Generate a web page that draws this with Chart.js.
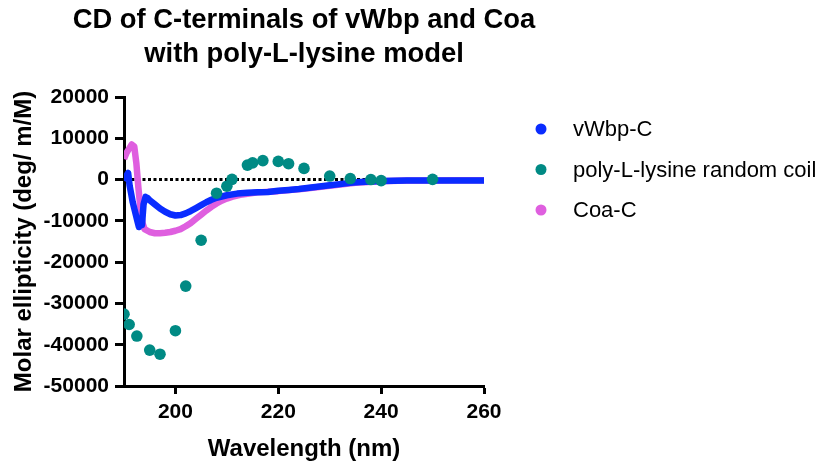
<!DOCTYPE html>
<html>
<head>
<meta charset="utf-8">
<script src="https://cdn.jsdelivr.net/npm/chart.js@4.4.1/dist/chart.umd.min.js"></script>
<style>
  html, body { margin: 0; padding: 0; background: #ffffff; }
  #wrap { width: 836px; height: 465px; position: relative; }
</style>
</head>
<body>
<div id="wrap"><canvas id="c" width="836" height="465"></canvas></div>
<script>
// ---- Data ----
const chartTitle = ['CD of C-terminals of vWbp and Coa', 'with poly-L-lysine model'];
const xAxisTitle = 'Wavelength (nm)';
const yAxisTitle = 'Molar ellipticity (deg/ m/M)';
const seriesNames = ['vWbp-C', 'poly-L-lysine random coil', 'Coa-C'];

const xTicks = [200, 220, 240, 260];
const yTicks = [20000, 10000, 0, -10000, -20000, -30000, -40000, -50000];

const vwbpWavelength = [190, 190.4, 190.8, 191.1, 191.4, 191.7, 192, 192.3, 192.6, 192.9, 193.2, 193.5, 193.8, 194.2, 194.6, 195, 196, 197, 198, 199, 200, 201, 202, 203, 204, 205, 206, 207, 208, 209, 210, 212, 214, 216, 218, 220, 222, 224, 226, 228, 230, 232, 234, 236, 238, 240, 245, 250, 255, 260];
const vwbpEllipticity = [-300, 800, 1600, -1500, -3500, -5500, -7000, -8500, -10000, -11500, -9500, -11000, -6000, -4200, -4500, -5000, -6000, -7000, -7800, -8400, -8700, -8600, -8200, -7600, -6900, -6200, -5500, -4900, -4400, -4100, -3800, -3400, -3200, -3100, -3000, -2700, -2500, -2300, -2000, -1700, -1400, -1100, -800, -600, -450, -350, -250, -200, -200, -200];

const plysWavelength = [190, 191, 192.5, 195, 197, 200, 202, 205, 208, 210, 211, 214, 215, 217, 220, 222, 225, 230, 234, 238, 240, 250];
const plysEllipticity = [-32600, -35100, -37900, -41300, -42300, -36600, -25800, -14700, -3300, -1600, 50, 3500, 4050, 4600, 4400, 3850, 2700, 850, 250, 0, -250, 50];

const coaWavelength = [190, 190.5, 191, 191.5, 192, 192.4, 192.8, 193.2, 193.6, 194, 195, 196, 197, 198, 199, 200, 201, 202, 203, 204, 205, 206, 207, 208, 209, 210, 211, 213, 216, 220, 225, 230, 235, 240, 245, 250, 255, 260];
const coaEllipticity = [5000, 6500, 7500, 8500, 8000, 4000, -2000, -7000, -10500, -12000, -12700, -13000, -13000, -12900, -12700, -12400, -12000, -11300, -10500, -9500, -8500, -7500, -6600, -5800, -5100, -4600, -4200, -3600, -3100, -2800, -2200, -1500, -800, -400, -250, -200, -150, -150];

const FONT = 'Liberation Sans, Arial, Helvetica, sans-serif';
const BLUE = '#0a2cff';
const TEAL = '#008a84';
const PINK = '#df5fdf';

function pts(xs, ys) { return xs.map((x, i) => ({ x: x, y: ys[i] })); }

const decorPlugin = {
  id: 'decor',
  beforeDatasetsDraw(chart) {
    const { ctx, chartArea, scales } = chart;
    const y0 = scales.y.getPixelForValue(0);
    ctx.save();
    ctx.strokeStyle = '#000';
    ctx.lineWidth = 3;
    ctx.setLineDash([3, 2.5]);
    ctx.beginPath();
    ctx.moveTo(chartArea.left + 2, y0);
    ctx.lineTo(chartArea.right, y0);
    ctx.stroke();
    ctx.restore();
  },
  afterDraw(chart) {
    const { ctx, chartArea } = chart;
    ctx.save();
    ctx.fillStyle = '#000';
    ctx.font = 'bold 27.4px ' + FONT;
    ctx.textAlign = 'center';
    ctx.textBaseline = 'middle';
    const cx = (chartArea.left + chartArea.right) / 2;
    ctx.fillText(chartTitle[0], cx, 20);
    ctx.fillText(chartTitle[1], cx, 54);
    const ds = chart.data.datasets;
    ctx.font = '22px ' + FONT;
    ctx.textAlign = 'left';
    for (let i = 0; i < ds.length; i++) {
      const y = 129 + i * 40.5;
      ctx.fillStyle = ds[i].legendColor;
      ctx.beginPath();
      ctx.arc(541, y, 5.5, 0, Math.PI * 2);
      ctx.fill();
      ctx.fillStyle = '#000';
      ctx.fillText(ds[i].label, 573, y + 1);
    }
    ctx.restore();
  }
};

new Chart(document.getElementById('c'), {
  type: 'scatter',
  data: {
    datasets: [
      {
        label: seriesNames[0],
        data: pts(vwbpWavelength, vwbpEllipticity),
        showLine: true,
        borderColor: BLUE,
        backgroundColor: BLUE,
        legendColor: BLUE,
        borderWidth: 6.5,
        borderJoinStyle: 'round',
        pointRadius: 0,
        order: 1
      },
      {
        label: seriesNames[1],
        data: pts(plysWavelength, plysEllipticity),
        showLine: false,
        backgroundColor: TEAL,
        borderColor: TEAL,
        legendColor: TEAL,
        pointRadius: 5.8,
        pointBorderWidth: 0,
        order: 0
      },
      {
        label: seriesNames[2],
        data: pts(coaWavelength, coaEllipticity),
        showLine: true,
        borderColor: PINK,
        backgroundColor: PINK,
        legendColor: PINK,
        borderWidth: 6.5,
        borderJoinStyle: 'round',
        pointRadius: 0,
        order: 2
      }
    ]
  },
  options: {
    responsive: false,
    animation: false,
    devicePixelRatio: 1,
    layout: { padding: { left: 0, top: 97, right: 352, bottom: 0 } },
    plugins: {
      legend: { display: false },
      title: { display: false },
      tooltip: { enabled: false }
    },
    scales: {
      x: {
        type: 'linear',
        min: 190,
        max: 260,
        afterBuildTicks(scale) { scale.ticks = xTicks.map(v => ({ value: v })); },
        afterFit(scale) { scale.height = 79; },
        ticks: { color: '#000', font: { family: FONT, size: 21, weight: 'bold' }, padding: 6, callback: v => String(v) },
        grid: { display: true, drawOnChartArea: false, drawTicks: true, tickLength: 8, tickWidth: 3, tickColor: '#000', color: '#000' },
        border: { display: true, width: 3, color: '#000' },
        title: { display: true, text: xAxisTitle, color: '#000', font: { family: FONT, size: 24, weight: 'bold' }, padding: { top: 0, bottom: 1 } }
      },
      y: {
        type: 'linear',
        min: -50000,
        max: 20000,
        afterBuildTicks(scale) { scale.ticks = yTicks.map(v => ({ value: v })); },
        afterFit(scale) { scale.width = 124; },
        ticks: { color: '#000', font: { family: FONT, size: 21, weight: 'bold' }, padding: 6, callback: v => String(v) },
        grid: { display: true, drawOnChartArea: false, drawTicks: true, tickLength: 9, tickWidth: 3, tickColor: '#000', color: '#000' },
        border: { display: true, width: 3, color: '#000' },
        title: { display: true, text: yAxisTitle, color: '#000', font: { family: FONT, size: 24, weight: 'bold' }, padding: { top: 10, bottom: 0 } }
      }
    }
  },
  plugins: [decorPlugin]
});
</script>
</body>
</html>
